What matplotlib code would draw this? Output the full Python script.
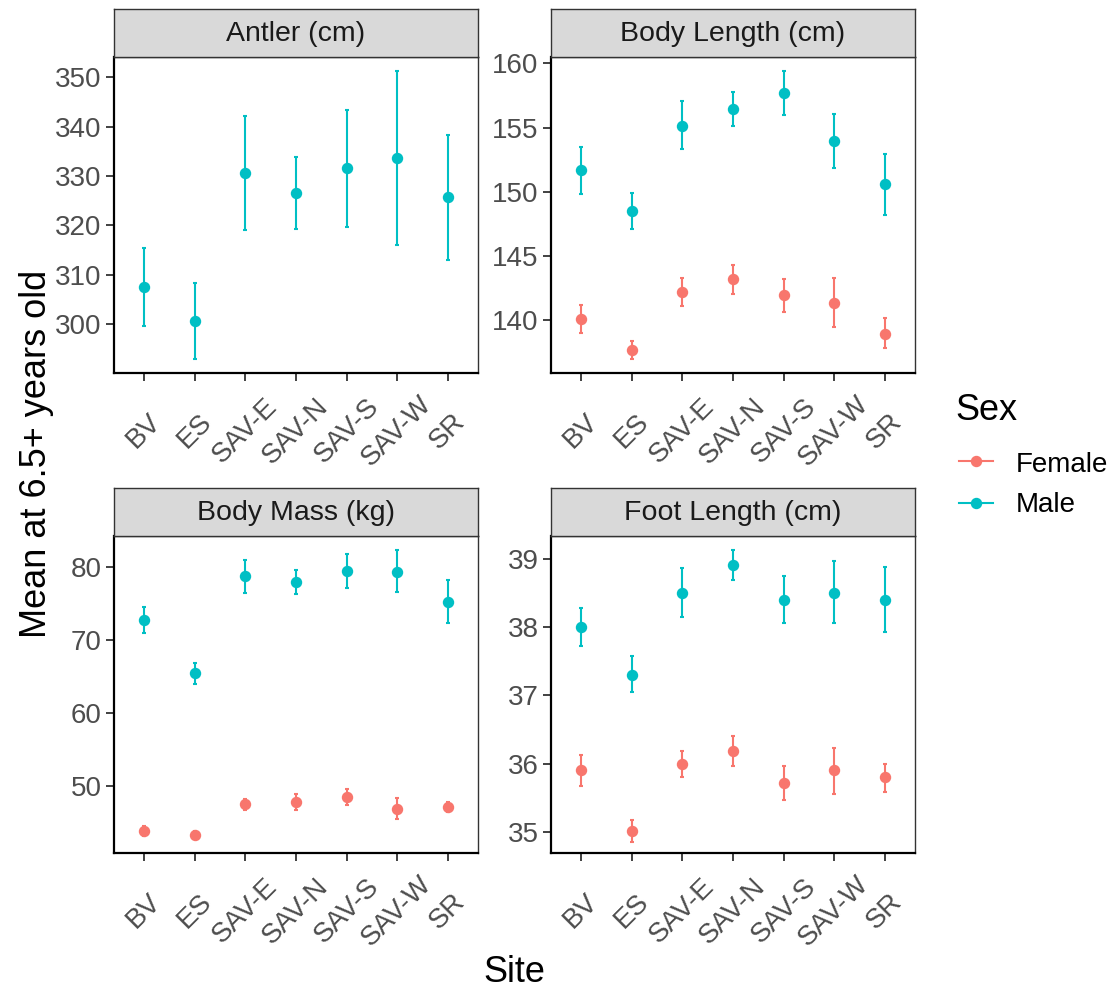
import numpy as np
import matplotlib
matplotlib.use('Agg')
import matplotlib.pyplot as plt
from matplotlib.lines import Line2D

plt.rcParams['font.family'] = ['Liberation Sans', 'DejaVu Sans']

sites = ['BV', 'ES', 'SAV-E', 'SAV-N', 'SAV-S', 'SAV-W', 'SR']

# Antler (cm) - males only
antler_m = [307.6, 300.7, 330.6, 326.5, 331.6, 333.6, 325.7]
antler_m_lo = [299.7, 293.0, 319.1, 319.3, 319.6, 316.0, 312.9]
antler_m_hi = [315.4, 308.4, 342.2, 333.9, 343.4, 351.2, 338.4]

# Body Length (cm)
blen_m = [151.66, 148.47, 155.16, 156.47, 157.66, 153.95, 150.58]
blen_m_lo = [149.86, 147.08, 153.36, 155.16, 155.98, 151.84, 148.19]
blen_m_hi = [153.51, 149.88, 157.04, 157.81, 159.38, 156.09, 152.95]
blen_f = [140.05, 137.68, 142.16, 143.19, 141.93, 141.34, 138.92]
blen_f_lo = [139.02, 136.99, 141.13, 142.01, 140.62, 139.46, 137.81]
blen_f_hi = [141.16, 138.33, 143.24, 144.32, 143.22, 143.29, 140.13]

# Body Mass (kg)
mass_m = [72.77, 65.5, 78.82, 78.0, 79.5, 79.41, 75.32]
mass_m_lo = [71.0, 64.0, 76.5, 76.36, 77.18, 76.64, 72.36]
mass_m_hi = [74.55, 66.95, 81.05, 79.59, 81.86, 82.32, 78.27]
mass_f = [43.91, 43.36, 47.55, 47.86, 48.59, 46.91, 47.18]
mass_f_lo = [43.18, 42.86, 46.73, 46.82, 47.5, 45.59, 46.45]
mass_f_hi = [44.64, 43.86, 48.27, 48.95, 49.59, 48.36, 47.91]

# Foot Length (cm)
foot_m = [38.0, 37.30, 38.5, 38.9, 38.4, 38.5, 38.4]
foot_m_lo = [37.72, 37.04, 38.15, 38.69, 38.05, 38.05, 37.93]
foot_m_hi = [38.28, 37.57, 38.86, 39.12, 38.75, 38.96, 38.87]
foot_f = [35.9, 35.01, 35.99, 36.19, 35.72, 35.9, 35.80]
foot_f_lo = [35.67, 34.85, 35.80, 35.97, 35.47, 35.56, 35.58]
foot_f_hi = [36.13, 35.18, 36.19, 36.40, 35.96, 36.23, 36.0]

sexes = ['Female', 'Male']
col_f = '#F8766D'
col_m = '#00BFC4'

fig = plt.figure(figsize=(11.15, 9.9), dpi=100)
W, H = 1115.0, 990.0


def add_panel(x0, x1, y0, y1, title):
    ax = fig.add_axes([x0 / W, 1 - y1 / H, (x1 - x0) / W, (y1 - y0) / H])
    st = fig.add_axes([x0 / W, 1 - y0 / H, (x1 - x0) / W, 48 / H])
    st.set_facecolor('#D9D9D9')
    st.set_xticks([])
    st.set_yticks([])
    for s in st.spines.values():
        s.set_color('#333333')
        s.set_linewidth(1.0)
    st.text(0.5, 0.47, title, ha='center', va='center', fontsize=20.5,
            color='#1A1A1A', transform=st.transAxes)
    return ax


def draw(ax, mean, lo, hi, color):
    x = np.arange(1, len(sites) + 1)
    mean = np.array(mean)
    err = [mean - np.array(lo), np.array(hi) - mean]
    ax.errorbar(x, mean, yerr=err, fmt='o', color=color, ms=7.2,
                elinewidth=1.5, capsize=1.7, capthick=1.5)


def style(ax, ticks):
    ax.set_xlim(0.4, 7.6)
    ax.set_xticks(np.arange(1, 8))
    ax.set_xticklabels(sites, rotation=45, ha='center', va='center',
                       rotation_mode='anchor')
    ax.set_yticks(ticks)
    ax.tick_params(labelsize=20, labelcolor='#4D4D4D', color='#333333',
                   length=6, width=1.3)
    ax.tick_params(axis='y', pad=3)
    ax.tick_params(axis='x', pad=36)
    for k in ['left', 'bottom']:
        ax.spines[k].set_color('black')
        ax.spines[k].set_linewidth(1.6)
    for k in ['top', 'right']:
        ax.spines[k].set_color('#333333')
        ax.spines[k].set_linewidth(1.0)


ax1 = add_panel(114, 478, 57, 373, 'Antler (cm)')
draw(ax1, antler_m, antler_m_lo, antler_m_hi, col_m)
style(ax1, [300, 310, 320, 330, 340, 350])
ax1.set_ylim(290.1, 354.1)

ax2 = add_panel(551, 915, 57, 373, 'Body Length (cm)')
draw(ax2, blen_f, blen_f_lo, blen_f_hi, col_f)
draw(ax2, blen_m, blen_m_lo, blen_m_hi, col_m)
style(ax2, [140, 145, 150, 155, 160])
ax2.set_ylim(135.87, 160.5)

ax3 = add_panel(114, 478, 536, 853, 'Body Mass (kg)')
draw(ax3, mass_f, mass_f_lo, mass_f_hi, col_f)
draw(ax3, mass_m, mass_m_lo, mass_m_hi, col_m)
style(ax3, [50, 60, 70, 80])
ax3.set_ylim(40.89, 84.29)

ax4 = add_panel(551, 915, 536, 853, 'Foot Length (cm)')
draw(ax4, foot_f, foot_f_lo, foot_f_hi, col_f)
draw(ax4, foot_m, foot_m_lo, foot_m_hi, col_m)
style(ax4, [35, 36, 37, 38, 39])
ax4.set_ylim(34.69, 39.33)

fig.text(37 / W, 1 - 454 / H, 'Mean at 6.5+ years old', rotation=90,
         ha='center', va='center', fontsize=26)
fig.text(514 / W, 1 - 973 / H, 'Site', ha='center', va='center', fontsize=26)

# legend drawn by hand to sit where ggplot puts it
fig.text(955 / W, 1 - 420 / H, 'Sex', ha='left', va='baseline', fontsize=26)
for name, c, ky, ty in zip(sexes, [col_f, col_m], [461, 503], [471.5, 512]):
    fig.add_artist(Line2D([959 / W, 993 / W], [1 - ky / H, 1 - ky / H],
                          color=c, lw=1.5, transform=fig.transFigure))
    fig.add_artist(Line2D([976 / W], [1 - ky / H], color=c, marker='o',
                          ms=7.2, lw=0, transform=fig.transFigure))
    fig.text(1016 / W, 1 - ty / H, name, ha='left', va='baseline',
             fontsize=20)

fig.savefig('out.png', dpi=100)
